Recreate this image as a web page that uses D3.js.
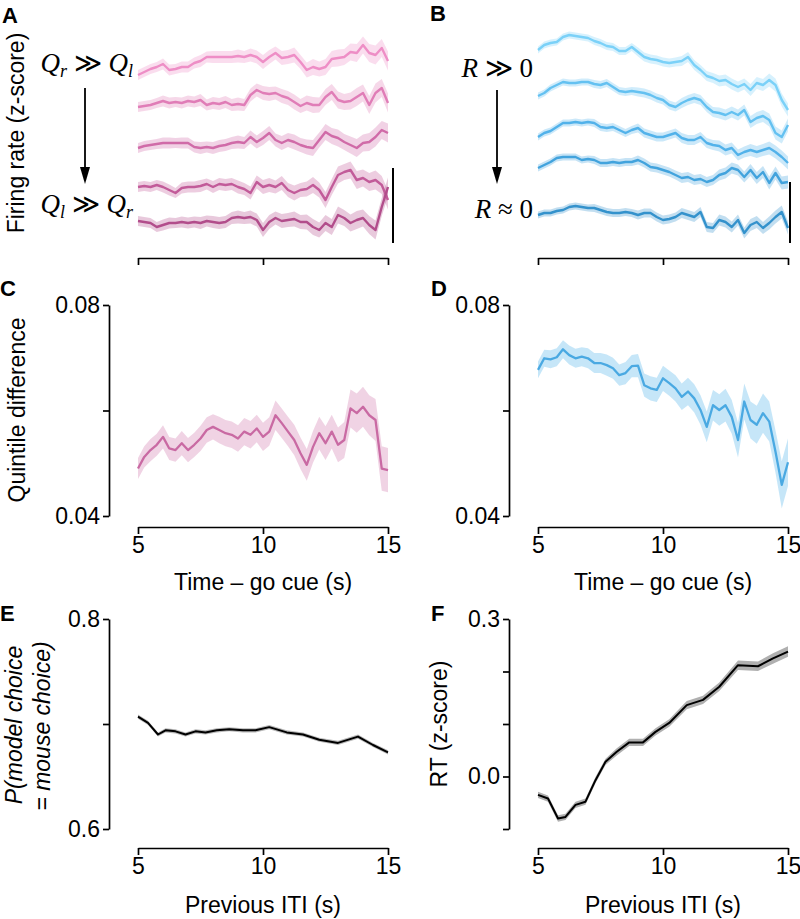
<!DOCTYPE html>
<html><head><meta charset="utf-8">
<script src="https://cdn.jsdelivr.net/npm/d3@7"></script>
<style>body{margin:0;background:#fff}</style>
</head><body>
<svg id="fig" width="800" height="919"></svg>
<script>
// ---------- DATA ----------
const times = [5,5.25,5.5,5.75,6,6.25,6.5,6.75,7,7.25,7.5,7.75,8,8.25,8.5,8.75,9,9.25,9.5,9.75,10,10.25,10.5,10.75,11,11.25,11.5,11.75,12,12.25,12.5,12.75,13,13.25,13.5,13.75,14,14.25,14.5,14.75,15];
// A: firing rate (stacked, arbitrary units), Q_r >> Q_l (top) to Q_l >> Q_r (bottom)
const q1 = [18.3,18.6,18.9,19.1,19.4,18.8,18.9,19.1,19.1,19.5,19.7,20.1,20.1,20.1,20.1,20.1,20.2,20.1,20.3,20.1,19.6,20.1,20.5,20.0,20.1,20.3,19.6,18.8,19.1,18.9,19.1,19.9,20.0,20.1,20.6,20.5,21.3,20.5,20.3,21.0,19.7];
const q2 = [15.1,15.2,15.3,15.5,15.7,15.5,15.6,15.5,15.7,15.6,15.8,15.3,15.5,15.4,15.6,15.3,15.4,15.3,16.3,16.8,16.5,16.4,16.5,16.2,16.0,15.6,15.2,15.5,15.3,15.3,16.1,16.6,15.8,15.6,15.7,16.1,16.5,15.3,16.5,17.0,15.5];
const q3 = [11.0,11.2,11.3,11.4,11.5,11.5,11.5,11.5,11.5,11.1,11.0,11.1,11.0,11.2,11.3,11.5,11.6,11.5,12.1,11.6,12.0,12.5,11.8,11.5,11.8,11.6,11.3,11.1,11.0,11.8,12.6,12.2,12.0,11.6,11.3,11.0,11.5,11.6,12.1,12.8,12.5];
const q4 = [7.1,7.2,7.1,7.3,7.1,6.8,6.5,7.0,7.1,7.1,7.2,7.4,7.1,7.4,7.3,7.4,7.1,6.9,6.5,7.6,7.1,7.3,7.1,7.5,6.8,6.5,6.8,6.9,7.3,6.8,5.8,7.1,8.3,8.6,8.8,7.8,8.0,7.6,7.8,7.3,5.8];
const q5 = [3.7,3.6,3.5,3.1,3.3,3.5,3.5,3.6,3.5,3.6,3.5,3.7,3.6,3.5,3.6,4.0,4.1,4.0,4.1,3.8,2.8,3.6,4.0,3.7,3.8,3.9,3.6,3.6,3.1,2.8,3.5,3.1,4.3,4.0,3.5,3.8,4.0,3.3,2.8,5.1,7.1];
const semA = [0.5,0.5,0.5,0.5,0.55,0.55,0.5,0.55,0.55,0.55,0.6,0.55,0.6,0.6,0.6,0.6,0.65,0.6,0.65,0.65,0.7,0.7,0.65,0.7,0.7,0.75,0.7,0.75,0.8,0.75,0.8,0.8,0.85,0.8,0.85,0.9,0.85,0.9,0.95,0.9,0.95];
// B: firing rate (stacked), R >> 0 (top) to R ~ 0 (bottom)
const r1 = [20.8,21.3,21.5,21.6,22.1,22.3,22.2,22.1,22.0,21.7,21.5,21.2,21.1,20.7,20.7,21.1,20.6,20.1,19.9,19.8,19.6,19.5,19.6,19.7,20.1,19.3,18.8,18.2,18.0,17.7,17.8,17.4,17.1,17.4,16.8,17.5,17.3,17.8,17.3,15.8,14.8];
const r2 = [16.2,16.5,17.0,17.3,17.6,17.5,17.5,17.6,17.6,17.4,17.3,17.5,17.1,16.7,16.6,16.7,16.6,16.5,16.3,16.0,15.8,15.3,15.1,15.5,15.8,16.0,15.8,15.1,14.6,14.5,14.3,14.6,14.3,14.8,13.6,14.0,14.2,13.8,12.5,12.1,13.3];
const r3 = [12.1,12.5,12.7,13.1,13.5,13.5,13.6,13.5,13.6,13.5,13.1,13.0,13.1,12.8,12.5,12.8,13.0,12.5,12.3,12.1,12.1,12.3,12.5,12.0,11.8,11.8,12.1,11.5,11.3,11.2,10.8,11.0,10.3,10.6,10.8,10.6,10.8,11.0,10.6,10.1,9.5];
const r4 = [9.0,9.3,9.6,10.0,10.1,10.1,10.1,9.8,9.9,9.8,9.5,9.5,9.6,9.5,9.6,9.6,9.8,9.5,9.1,9.0,8.8,8.6,8.3,8.0,8.1,7.8,7.9,7.6,7.8,8.3,8.5,9.0,8.8,8.1,8.8,8.0,8.6,7.5,8.5,7.5,7.6];
const r5 = [4.3,4.5,4.5,4.7,4.8,5.1,5.2,5.1,5.0,5.0,4.8,4.6,4.5,4.5,4.6,4.5,4.3,4.5,4.5,4.1,3.8,3.9,4.1,4.5,4.3,4.1,4.6,3.1,3.0,3.8,3.6,3.1,3.8,2.5,3.3,3.6,3.0,3.5,4.1,4.6,3.0];
const semB = [0.35,0.35,0.35,0.35,0.35,0.35,0.35,0.35,0.35,0.4,0.4,0.4,0.4,0.4,0.4,0.4,0.45,0.45,0.45,0.45,0.45,0.45,0.45,0.5,0.5,0.5,0.5,0.5,0.5,0.55,0.55,0.55,0.55,0.55,0.6,0.6,0.6,0.65,0.65,0.65,0.65];
const scaleBarA = [1.5, 9.0];
const scaleBarB = [1.5, 7.6];
// C, D: quintile difference
const qDiff = [0.0490,0.0512,0.0525,0.0535,0.0550,0.0528,0.0525,0.0538,0.0525,0.0535,0.0547,0.0563,0.0569,0.0563,0.0557,0.0554,0.0547,0.0560,0.0554,0.0566,0.0550,0.0560,0.0591,0.0576,0.0560,0.0544,0.0519,0.0497,0.0531,0.0557,0.0538,0.0560,0.0535,0.0544,0.0604,0.0595,0.0607,0.0591,0.0582,0.0490,0.0487];
const semC = [0.0020,0.0020,0.0021,0.0021,0.0022,0.0022,0.0022,0.0023,0.0023,0.0023,0.0024,0.0024,0.0024,0.0025,0.0025,0.0025,0.0025,0.0026,0.0026,0.0026,0.0027,0.0027,0.0028,0.0028,0.0028,0.0029,0.0030,0.0030,0.0030,0.0031,0.0032,0.0032,0.0033,0.0034,0.0036,0.0037,0.0038,0.0038,0.0040,0.0042,0.0042];
const rDiff = [0.0677,0.0699,0.0697,0.0701,0.0716,0.0705,0.0699,0.0702,0.0699,0.0690,0.0690,0.0686,0.0680,0.0667,0.0671,0.0684,0.0685,0.0648,0.0642,0.0639,0.0661,0.0652,0.0642,0.0626,0.0636,0.0623,0.0601,0.0569,0.0610,0.0601,0.0610,0.0588,0.0544,0.0617,0.0582,0.0573,0.0595,0.0579,0.0522,0.0459,0.0502];
const semD = [0.0016,0.0016,0.0017,0.0017,0.0017,0.0018,0.0018,0.0018,0.0019,0.0019,0.0019,0.0020,0.0020,0.0020,0.0021,0.0021,0.0022,0.0022,0.0023,0.0023,0.0024,0.0024,0.0025,0.0025,0.0026,0.0027,0.0028,0.0029,0.0029,0.0030,0.0031,0.0032,0.0033,0.0034,0.0035,0.0036,0.0037,0.0038,0.0040,0.0045,0.0045];
// E, F: previous ITI
const iti = [5.0,5.4,5.8,6.1,6.5,6.9,7.3,7.7,8.15,8.65,9.2,9.7,10.25,10.95,11.6,12.25,13.0,13.8,14.4,15.0];
const pMatch = [0.707,0.701,0.690,0.694,0.693,0.690,0.693,0.692,0.694,0.695,0.694,0.694,0.697,0.692,0.690,0.685,0.682,0.688,0.680,0.673];
const semE = [0.002,0.002,0.002,0.002,0.002,0.002,0.002,0.002,0.002,0.002,0.002,0.002,0.002,0.002,0.002,0.002,0.002,0.002,0.002,0.002];
const rtZ = [-0.035,-0.042,-0.080,-0.077,-0.054,-0.048,-0.007,0.028,0.047,0.065,0.065,0.085,0.102,0.136,0.146,0.171,0.212,0.210,0.225,0.238];
const semF = [0.006,0.006,0.006,0.006,0.006,0.006,0.006,0.006,0.007,0.007,0.007,0.007,0.007,0.008,0.008,0.008,0.009,0.009,0.010,0.010];
const xTicks = [5,10,15];
const qColors = ["#ee8ec6","#e07db7","#d06ba8","#c25b99","#b24d8b"];
const rColors = ["#7bd1f8","#64c1f1","#52b2ea","#42a3dd","#3492cc"];

// ---------- DRAW ----------
const svg = d3.select("#fig");
const SANS = "'Liberation Sans', Arial, Helvetica, sans-serif";
const SERIF = "'Liberation Serif', 'DejaVu Serif', serif";
const FS = 23;

function xScale(left){ return d3.scaleLinear().domain([5,15]).range([left, left+250]); }

function drawXAxis(x, yPos, labels){
  const ax = d3.axisBottom(x).tickValues(xTicks).tickSize(7).tickSizeOuter(0).tickPadding(3)
    .tickFormat(labels ? d3.format("d") : "");
  const g = svg.append("g").attr("transform", `translate(0,${yPos})`).call(ax);
  g.selectAll("path,line").attr("stroke","#000").attr("stroke-width",1.7);
  g.selectAll("text").attr("font-family",SANS).attr("font-size",FS).attr("fill","#000");
}
function drawYAxis(y, xPos, ticks, shown, fmt){
  const ax = d3.axisLeft(y).tickValues(ticks).tickSize(6).tickSizeOuter(0).tickPadding(3)
    .tickFormat(d => shown.includes(d) ? fmt(d) : "");
  const g = svg.append("g").attr("transform", `translate(${xPos},0)`).call(ax);
  g.selectAll("path,line").attr("stroke","#000").attr("stroke-width",1.7);
  g.selectAll("text").attr("font-family",SANS).attr("font-size",FS).attr("fill","#000");
}
function band(x, y, xs, vals, sem, color, op){
  const area = d3.area().x((d,i)=>x(xs[i])).y0((d,i)=>y(d-sem[i])).y1((d,i)=>y(d+sem[i]));
  svg.append("path").attr("d", area(vals)).attr("fill", color).attr("fill-opacity", op).attr("stroke","none");
}
function line(x, y, xs, vals, color, w){
  const ln = d3.line().x((d,i)=>x(xs[i])).y(d=>y(d));
  svg.append("path").attr("d", ln(vals)).attr("fill","none").attr("stroke",color)
    .attr("stroke-width", w).attr("stroke-linejoin","round");
}
function panelLabel(t, x, y){
  svg.append("text").attr("x",x).attr("y",y).text(t).attr("font-family",SANS)
    .attr("font-weight","bold").attr("font-size",22);
}
function vLabel(t, x, y, italic){
  svg.append("text").attr("transform",`translate(${x},${y}) rotate(-90)`).attr("text-anchor","middle")
    .attr("font-family",SANS).attr("font-size",FS).attr("font-style", italic ? "italic" : "normal").text(t);
}
function hLabel(t, x, y){
  svg.append("text").attr("x",x).attr("y",y).attr("text-anchor","middle")
    .attr("font-family",SANS).attr("font-size",FS).text(t);
}
function arrow(x, y0, y1){
  svg.append("line").attr("x1",x).attr("x2",x).attr("y1",y0).attr("y2",y1-14)
    .attr("stroke","#000").attr("stroke-width",1.8);
  svg.append("path").attr("d",`M${x-5},${y1-17}L${x+5},${y1-17}L${x},${y1}Z`).attr("fill","#000");
}
function mathLabel(x, y, parts){
  const t = svg.append("text").attr("x",x).attr("y",y).attr("text-anchor","end")
    .attr("font-family",SERIF).attr("font-size",27);
  parts.forEach(p => {
    const ts = t.append("tspan").text(p.s).attr("font-style", p.it ? "italic" : "normal");
    if(p.sub){ ts.attr("font-size",18).attr("dy",5); }
    if(p.up){ ts.attr("dy",-5); }
  });
}

// ---- Panel A ----
const xA = xScale(138);
const yTop = d3.scaleLinear().domain([0,25]).range([258,8]);
const qTraces = [q1,q2,q3,q4,q5];
qTraces.forEach((tr,i)=> band(xA, yTop, times, tr, semA, qColors[i], 0.3));
qTraces.forEach((tr,i)=> line(xA, yTop, times, tr, qColors[i], 2.4));
drawXAxis(xA, 258, false);
svg.append("line").attr("x1",xA(15)+5).attr("x2",xA(15)+5)
  .attr("y1",yTop(scaleBarA[0])).attr("y2",yTop(scaleBarA[1])).attr("stroke","#000").attr("stroke-width",2);
vLabel("Firing rate (z-score)", 24, 133, false);
mathLabel(133, 72, [{s:"Q",it:true},{s:"r",it:true,sub:true},{s:" ≫ ",up:true},{s:"Q",it:true},{s:"l",it:true,sub:true}]);
mathLabel(133, 213, [{s:"Q",it:true},{s:"l",it:true,sub:true},{s:" ≫ ",up:true},{s:"Q",it:true},{s:"r",it:true,sub:true}]);
arrow(85, 88, 184);
panelLabel("A", 2, 23);

// ---- Panel B ----
const xB = xScale(538);
const rTraces = [r1,r2,r3,r4,r5];
rTraces.forEach((tr,i)=> band(xB, yTop, times, tr, semB, rColors[i], 0.3));
rTraces.forEach((tr,i)=> line(xB, yTop, times, tr, rColors[i], 2.4));
drawXAxis(xB, 258, false);
svg.append("line").attr("x1",xB(15)+2).attr("x2",xB(15)+2)
  .attr("y1",yTop(scaleBarB[0])).attr("y2",yTop(scaleBarB[1])).attr("stroke","#000").attr("stroke-width",2);
mathLabel(533, 77, [{s:"R",it:true},{s:" ≫ 0"}]);
mathLabel(533, 218, [{s:"R",it:true},{s:" ≈ 0"}]);
arrow(497, 90, 184);
panelLabel("B", 430, 21);

// ---- Panel C ----
const yQ = d3.scaleLinear().domain([0.04,0.08]).range([516,305]);
band(xA, yQ, times, qDiff, semC, "#d27aae", 0.33);
line(xA, yQ, times, qDiff, "#c96aa3", 2.3);
drawYAxis(yQ, 109, [0.04,0.06,0.08], [0.04,0.08], d3.format(".2f"));
drawXAxis(xA, 527, true);
vLabel("Quintile difference", 25, 410, false);
hLabel("Time – go cue (s)", 263, 590);
panelLabel("C", 0, 296);

// ---- Panel D ----
band(xB, yQ, times, rDiff, semD, "#5bb6ea", 0.35);
line(xB, yQ, times, rDiff, "#4aa9e2", 2.3);
drawYAxis(yQ, 509, [0.04,0.06,0.08], [0.04,0.08], d3.format(".2f"));
drawXAxis(xB, 527, true);
hLabel("Time – go cue (s)", 663, 590);
panelLabel("D", 431, 296);

// ---- Panel E ----
const yE = d3.scaleLinear().domain([0.6,0.8]).range([829,619]);
band(xA, yE, iti, pMatch, semE, "#b8b8b8", 1);
line(xA, yE, iti, pMatch, "#000", 2);
drawYAxis(yE, 109, [0.6,0.7,0.8], [0.6,0.8], d3.format(".1f"));
drawXAxis(xA, 848, true);
vLabel("P(model  choice", 22, 725, true);
vLabel("= mouse choice)", 50, 726, true);
hLabel("Previous ITI (s)", 263, 913);
panelLabel("E", 0, 621);

// ---- Panel F ----
const yF = d3.scaleLinear().domain([-0.1,0.3]).range([829,619]);
band(xB, yF, iti, rtZ, semF, "#b0b0b0", 1);
line(xB, yF, iti, rtZ, "#000", 2);
drawYAxis(yF, 509, [-0.1,0,0.1,0.2,0.3], [0,0.3], d3.format(".1f"));
drawXAxis(xB, 848, true);
vLabel("RT (z-score)", 447, 724, false);
hLabel("Previous ITI (s)", 663, 913);
panelLabel("F", 431, 621);
</script>
</body></html>
